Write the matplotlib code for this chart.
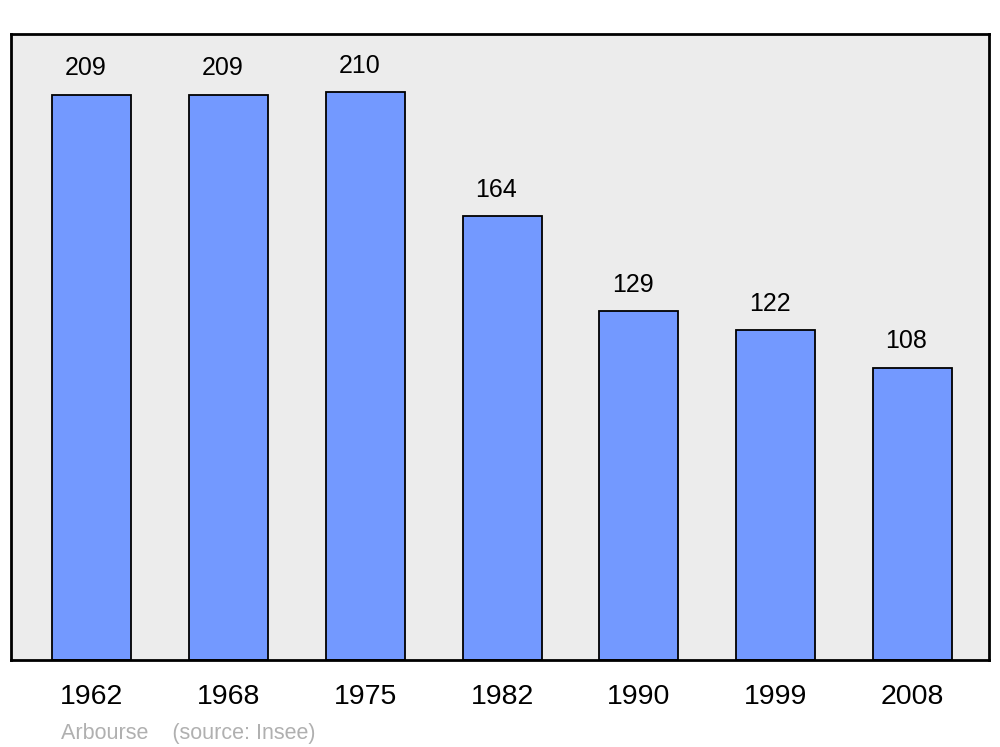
import matplotlib.pyplot as plt

plt.rcParams['font.family'] = ['Liberation Sans', 'DejaVu Sans']

years = ["1962", "1968", "1975", "1982", "1990", "1999", "2008"]
population = [209, 209, 210, 164, 129, 122, 108]

fig = plt.figure(figsize=(10, 7.47), dpi=100)
ax = fig.add_axes([0.011, 87 / 747, 0.978, 626 / 747])
ax.set_facecolor("#ececec")

x = range(len(years))
ax.bar(x, population, width=0.578, color="#7399ff", edgecolor="black", linewidth=1.3, zorder=2)

for xi, v in zip(x, population):
    ax.annotate(str(v), (xi, v), xytext=(-4.3, 19), textcoords="offset points",
                ha="center", va="center", fontsize=18)

ax.set_xlim(-0.592, 6.56)
ax.set_ylim(0, 231.4)
ax.set_yticks([])
ax.set_xticks(list(x))
ax.set_xticklabels(years, fontsize=20.5)
ax.tick_params(axis="x", length=0, pad=17.5)
for s in ax.spines.values():
    s.set_linewidth(2)

fig.text(0.061, (747 - 733) / 747, "Arbourse    (source: Insee)",
         fontsize=15.5, color="#b0b0b0", ha="left", va="center")

fig.savefig("out.png", dpi=100)
